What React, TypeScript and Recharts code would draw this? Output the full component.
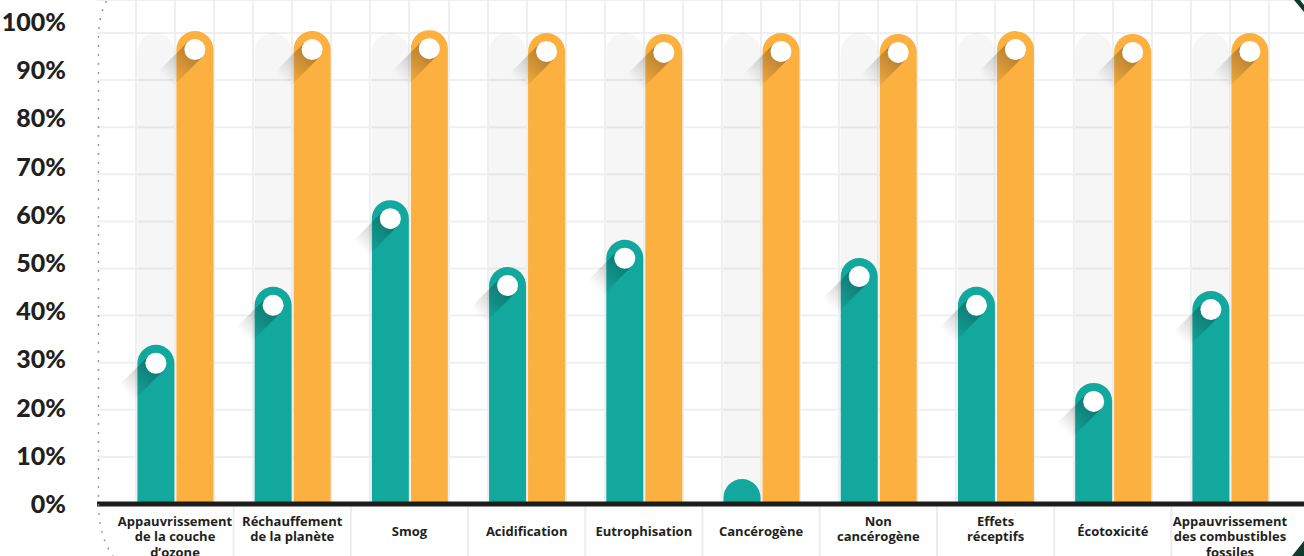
import React from 'react';
import { BarChart, Bar, XAxis, YAxis, CartesianGrid } from 'recharts';

const categories = [
  'Appauvrissement\nde la couche\nd’ozone',
  'Réchauffement\nde la planète',
  'Smog',
  'Acidification',
  'Eutrophisation',
  'Cancérogène',
  'Non\ncancérogène',
  'Effets\nréceptifs',
  'Écotoxicité',
  'Appauvrissement\ndes combustibles\nfossiles',
];
const impactValues = [33.8, 46.1, 64.5, 50.3, 56.1, 5.3, 52.2, 46.1, 25.7, 45.2];
const referenceValues = [100.4, 100.4, 100.6, 100, 99.8, 100, 99.8, 100.4, 99.8, 100];
const yTicks = [0, 10, 20, 30, 40, 50, 60, 70, 80, 90, 100];
const gridTicks = [1, 2, 3, 4, 5, 6, 7, 8, 9, 10, 11, 12, 13, 14, 15, 16, 17, 18, 19, 20, 21, 22, 23, 24, 25, 26, 27, 28, 29, 30];

const data = categories.map((c, i) => ({
  category: c,
  impact: impactValues[i],
  reference: referenceValues[i],
}));

const Y_MAX = 107;
const GRID_MAX = 30.9;
const TEAL = '#13a89e';
const ORANGE = '#fbb040';
const TEXT = '#231f20';

function capPath(x: number, y: number, w: number, h: number) {
  const r = w / 2;
  const hh = Math.max(h, r);
  const top = y + h - hh;
  return `M${x},${y + h} L${x},${top + r} A${r},${r} 0 0 1 ${x + w},${top + r} L${x + w},${y + h} Z`;
}

const PillBar = (props: any) => {
  const { x, y, width, height, fill, index, prefix } = props;
  if (!height || height <= 0) return null;
  const r = width / 2;
  const cx = x + r;
  const cy = y + r;
  const showDot = height > 2.2 * r;
  const rd = 10.5;
  const L = 42;
  const k = Math.SQRT1_2;
  const id = `shadow-${prefix}-${index}`;
  const p1 = [cx + rd * k, cy + rd * k];
  const p2 = [cx - rd * k, cy - rd * k];
  const p3 = [p2[0] - L * k, p2[1] + L * k];
  const p4 = [p1[0] - L * k, p1[1] + L * k];
  return (
    <g>
      <path d={capPath(x, y, width, height)} fill={fill} />
      {showDot && (
        <>
          <defs>
            <linearGradient id={id} gradientUnits="userSpaceOnUse" x1={cx} y1={cy} x2={cx - L * k} y2={cy + L * k}>
              <stop offset="0" stopColor="#000" stopOpacity={0.3} />
              <stop offset="1" stopColor="#000" stopOpacity={0} />
            </linearGradient>
          </defs>
          <polygon
            points={`${p1[0]},${p1[1]} ${p2[0]},${p2[1]} ${p3[0]},${p3[1]} ${p4[0]},${p4[1]}`}
            fill={`url(#${id})`}
          />
          <circle cx={cx} cy={cy} r={rd} fill="#fff" />
        </>
      )}
    </g>
  );
};

const GrayColumn = (props: any) => {
  const { x, y, width, height } = props;
  const top = y + height * (1 - 100 / Y_MAX);
  return <path d={capPath(x, top, width, y + height - top)} fill="rgba(0,0,0,0.035)" />;
};

const XTick = (props: any) => {
  const { x, y, payload, index } = props;
  const lines = String(payload.value).split('\n');
  const half = payload.offset || 58.6;
  const startY = lines.length === 1 ? 27 : 17;
  return (
    <g>
      {index > 0 && (
        <line x1={x - half} x2={x - half} y1={y + 3} y2={y + 60} stroke="#ececec" strokeWidth={2} />
      )}
      <text textAnchor="middle" fontFamily="Open Sans" fontWeight={700} fontSize={13} fill={TEXT}>
        {lines.map((l, i) => (
          <tspan key={i} x={x} y={y + startY + i * 15.5 + 4.5}>
            {l}
          </tspan>
        ))}
      </text>
    </g>
  );
};

const YTick = (props: any) => {
  const { y, payload } = props;
  return (
    <text
      x={66}
      y={y - payload.value * 0.11 + 9}
      textAnchor="end"
      fontFamily="Lato"
      fontWeight={900}
      fontSize={25}
      fill={TEXT}
    >
      {`${payload.value}%`}
    </text>
  );
};

const verticalGen = (args: any) => {
  const s = args && args.xAxis && args.xAxis.scale;
  if (typeof s === 'function') {
    return gridTicks.map((t) => Math.round(s(t)));
  }
  const off = (args && args.offset) || { left: 97, width: 1207 };
  return gridTicks.map((t) => Math.round(off.left + (t * off.width) / GRID_MAX));
};

export default function App() {
  return (
    <div style={{ position: 'absolute', left: 0, top: 0, width: 1304, height: 556, background: '#fff' }}>
      <BarChart
        width={1304}
        height={556}
        data={data}
        margin={{ top: 0, right: 0, left: 0, bottom: 0 }}
        barSize={37}
        barGap={2}
      >
        <CartesianGrid
          xAxisId="grid"
          stroke="#eeeff1"
          strokeWidth={2}
          verticalCoordinatesGenerator={verticalGen}
        />
        <XAxis xAxisId="grid" type="number" domain={[0, GRID_MAX]} ticks={gridTicks} hide allowDataOverflow />
        <YAxis
          width={97}
          domain={[0, Y_MAX]}
          ticks={yTicks}
          axisLine={false}
          tickLine={false}
          tick={<YTick />}
          interval={0}
        />
        <Bar
          xAxisId="cat"
          dataKey="impact"
          fill={TEAL}
          isAnimationActive={false}
          background={(p: any) => <GrayColumn {...p} />}
          shape={(p: any) => <PillBar {...p} prefix="a" />}
        />
        <Bar
          xAxisId="cat"
          dataKey="reference"
          fill={ORANGE}
          isAnimationActive={false}
          shape={(p: any) => <PillBar {...p} prefix="b" />}
        />
        <XAxis
          xAxisId="cat"
          dataKey="category"
          height={52}
          padding={{ left: 19.4, right: 15.4 }}
          axisLine={{ stroke: '#1d1d1b', strokeWidth: 5 }}
          tickLine={false}
          tickSize={0}
          tickMargin={0}
          interval={0}
          tick={<XTick />}
        />
      </BarChart>
      <svg
        width={1304}
        height={556}
        style={{ position: 'absolute', left: 0, top: 0, pointerEvents: 'none' }}
      >
        <path
          d="M106,2 Q98.5,16 98.5,40 L98.5,505 Q99,540 116,560"
          fill="none"
          stroke="#8a8a8a"
          strokeWidth={1.8}
          strokeLinecap="round"
          strokeDasharray="0 9"
        />
        <polygon points="1294,0 1300,0 1304,5 1304,12" fill="#0e3b2c" />
        <polygon points="1292,556 1304,541 1304,556" fill="#0e3b2c" />
      </svg>
    </div>
  );
}
